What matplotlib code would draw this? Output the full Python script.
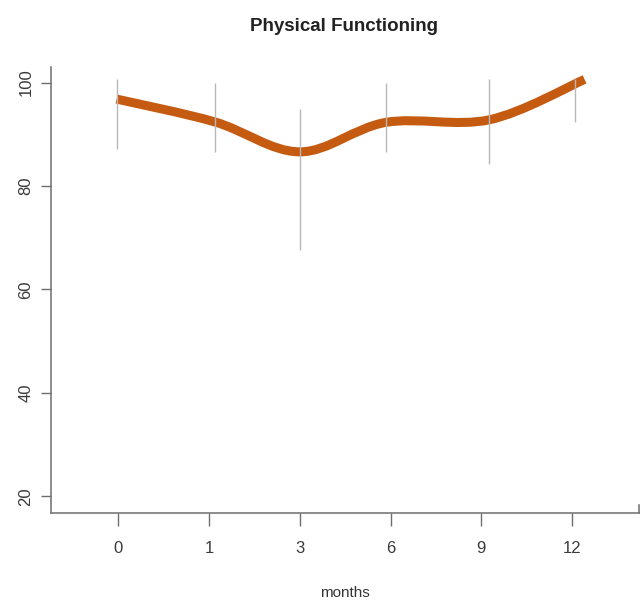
import numpy as np
import matplotlib.pyplot as plt
from matplotlib.path import Path
from matplotlib.patches import PathPatch

plt.rcParams['font.family'] = ['Liberation Sans', 'DejaVu Sans']

# data
months = ['0', '1', '3', '6', '9', '12']
bar_x = [0.98, 2.06, 3.0, 3.95, 5.09, 6.03]
bar_lo = [87.1, 86.5, 67.6, 86.5, 84.3, 92.4]
bar_hi = [100.6, 100.0, 94.8, 100.0, 100.7, 100.7]
line_x = [0.98, 2.06, 3.0, 3.95, 5.09, 6.14]
line_y = [96.8, 92.4, 86.6, 92.3, 92.8, 100.6]


# smooth curve through the points (Catmull-Rom as cubic Bezier segments)
def smooth_path(xs, ys):
    pts = np.column_stack([xs, ys])
    padded = np.vstack([pts[0], pts, pts[-1]])
    verts = [pts[0]]
    codes = [Path.MOVETO]
    for i in range(len(pts) - 1):
        p0, p1, p2, p3 = padded[i], padded[i + 1], padded[i + 2], padded[i + 3]
        verts += [p1 + (p2 - p0) / 6, p2 - (p3 - p1) / 6, p2]
        codes += [Path.CURVE4] * 3
    return Path(verts, codes)


fig = plt.figure(figsize=(6.43, 6.03), dpi=100)
ax = fig.add_axes([0.0798, 0.1493, 0.914, 0.7396])

curve = PathPatch(smooth_path(line_x, line_y), fill=False, edgecolor='#c55a11',
                  lw=6.5, capstyle='butt', joinstyle='round', zorder=2)
ax.add_patch(curve)
ax.vlines(bar_x, bar_lo, bar_hi, color='#b8b8b8', lw=1.0, zorder=3)

ax.set_xlim(0.26, 6.74)
ax.set_ylim(16.8, 103.0)

ax.set_xticks(range(1, len(months) + 1))
ax.set_xticklabels(months, fontsize=12, color='#3a3a3a')
ax.set_yticks([20, 40, 60, 80, 100])
ax.set_yticklabels(['20', '40', '60', '80', '100'], rotation=90, va='center',
                   fontsize=12, color='#3a3a3a')
ax.tick_params(axis='x', length=9, width=1.0, color='#6e6e6e', pad=11)
ax.tick_params(axis='y', length=7, width=1.0, color='#6e6e6e', pad=6)

ax.spines['top'].set_visible(False)
ax.spines['right'].set_bounds(16.8, 18.3)
for s in ['left', 'bottom', 'right']:
    ax.spines[s].set_color('#6e6e6e')
    ax.spines[s].set_linewidth(1.1)

ax.set_xlabel('months', fontsize=11, color='#333333')
ax.xaxis.label.set_va('center')
ax.xaxis.set_label_coords(0.5, (513 - 593) / 446)

fig.text(0.535, 1 - 31 / 603, 'Physical Functioning', ha='center', va='baseline',
         fontsize=13.5, fontweight='bold', color='#222222')

fig.savefig('out.png', dpi=100)
